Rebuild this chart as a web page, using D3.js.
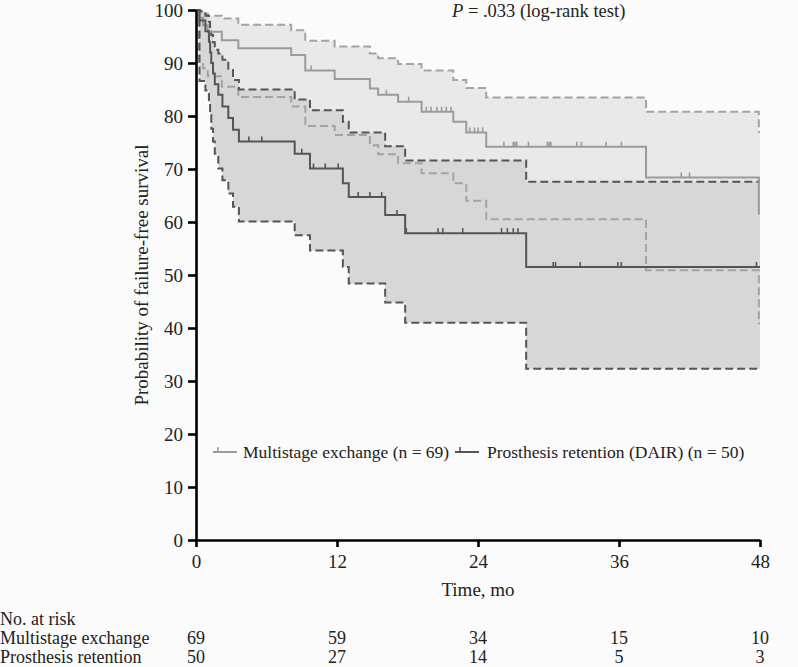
<!DOCTYPE html>
<html><head><meta charset="utf-8">
<script src="https://cdn.jsdelivr.net/npm/d3@7"></script>
<style>
html,body{margin:0;padding:0;background:#fbfbfb;}
svg{display:block;}
text{font-family:"Liberation Serif","Times New Roman",serif;fill:#222;}
</style></head>
<body><svg id="chart" width="798" height="667"></svg>
<script>
// ---------- DATA ----------
const xTicks = [0, 12, 24, 36, 48];
const yTicks = [0, 10, 20, 30, 40, 50, 60, 70, 80, 90, 100];

// Multistage exchange (Kaplan-Meier step times, estimate %, 95% CI)
const multiTimes = [0, 0.25, 0.6, 1.0, 2.2, 3.6, 8.1, 9.3, 11.8, 14.8, 15.5, 17.2, 19.2, 21.9, 23.0, 24.7, 38.3, 47.9, 48];
const multiEst   = [100, 98.55, 97.1, 95.9, 94.3, 92.8, 91.5, 88.6, 87.0, 85.2, 84.0, 82.7, 80.8, 78.9, 76.9, 74.2, 68.4, 61.6, 61.6];
const multiLower = [100, 90.2, 89.0, 87.5, 85.5, 83.6, 81.8, 78.1, 76.4, 74.5, 72.8, 71.1, 69.2, 67.3, 64.0, 60.5, 50.9, 40.9, 40.9];
const multiUpper = [100, 99.8, 99.3, 98.9, 98.4, 97.2, 96.2, 94.2, 93.1, 91.8, 90.9, 89.8, 88.6, 86.8, 85.3, 83.5, 80.8, 77.0, 77.0];
const multiCensor = [9.8, 16.2, 18.1, 19.6, 20.0, 20.5, 20.9, 21.3, 21.7, 23.3, 23.7, 24.0, 24.4,
  26.2, 27.0, 27.15, 27.3, 28.3, 29.9, 30.05, 30.2, 32.4, 32.8, 34.9, 36.2, 41.3, 42.0];

// Prosthesis retention (DAIR)
const dairTimes = [0, 0.3, 0.8, 1.1, 1.2, 1.3, 1.45, 1.6, 1.9, 2.25, 2.75, 3.15, 3.65, 8.4, 9.7, 12.5, 13.0, 16.1, 17.8, 28.1, 48];
const dairEst   = [100, 98, 96, 94, 92, 90, 88, 86, 84, 81.8, 79.6, 77.4, 75.2, 72.9, 70.1, 67.3, 64.7, 61.3, 57.9, 51.5, 51.5];
const dairLower = [100, 86.6, 84.8, 82.5, 80.2, 77.6, 75.2, 72.9, 70.1, 67.9, 65.4, 62.9, 60.1, 57.5, 54.6, 51.5, 48.4, 44.8, 41.0, 32.3, 32.3];
const dairUpper = [100, 99.7, 98.9, 97.8, 96.6, 95.3, 93.9, 92.5, 91.8, 90.6, 88.7, 86.8, 85.0, 83.1, 81.1, 78.9, 76.9, 74.3, 71.6, 67.6, 67.6];
const dairCensor = [4.5, 5.6, 9.0, 10.0, 11.0, 12.1, 13.8, 14.8, 15.8, 17.1, 17.9, 20.6, 21.0, 22.7, 26.0, 26.5, 27.0, 27.4,
  30.4, 30.6, 32.7, 35.9, 36.2, 47.7];

// Risk table
const riskGroups = ["Multistage exchange", "Prosthesis retention"];
const multiRisk = [69, 59, 34, 15, 10];
const dairRisk  = [50, 27, 14, 5, 3];

const legendLabels = ["Multistage exchange (n = 69)", "Prosthesis retention (DAIR) (n = 50)"];

// ---------- DRAW ----------
const svg = d3.select("#chart");
const x = d3.scaleLinear().domain([0, 48]).range([196, 760]);
const y = d3.scaleLinear().domain([0, 100]).range([540, 10]);

const LIGHT_FILL = "#e9e9e9", DARK_FILL = "#d7d7d7";
const LIGHT_LINE = "#9b9b9b", DARK_LINE = "#555555";

function rows(times, a, b, c) { return times.map((t, i) => ({t, e: a[i], lo: b[i], hi: c[i]})); }
const multi = rows(multiTimes, multiEst, multiLower, multiUpper);
const dair = rows(dairTimes, dairEst, dairLower, dairUpper);

const area = d3.area().curve(d3.curveStepAfter).x(d => x(d.t)).y0(d => y(d.lo)).y1(d => y(d.hi));
const lineOf = key => d3.line().curve(d3.curveStepAfter).x(d => x(d.t)).y(d => y(d[key]));

const g = svg.append("g");
g.append("path").attr("d", area(multi)).attr("fill", LIGHT_FILL);
g.append("path").attr("d", area(dair)).attr("fill", DARK_FILL);

function ci(data, color) {
  ["lo", "hi"].forEach(k => g.append("path").attr("d", lineOf(k)(data))
    .attr("fill", "none").attr("stroke", color).attr("stroke-width", 2)
    .attr("stroke-dasharray", "8,4"));
}
ci(multi, "#a3a3a3");
ci(dair, DARK_LINE);

function est(data, censor, times, vals, color) {
  g.append("path").attr("d", lineOf("e")(data)).attr("fill", "none")
    .attr("stroke", color).attr("stroke-width", 2);
  const bis = d3.bisector(d => d).right;
  g.selectAll(null).data(censor).join("line")
    .attr("x1", d => x(d)).attr("x2", d => x(d))
    .attr("y1", d => y(vals[bis(times, d) - 1]))
    .attr("y2", d => y(vals[bis(times, d) - 1]) - 5)
    .attr("stroke", color).attr("stroke-width", 1.6);
}
est(multi, multiCensor, multiTimes, multiEst, LIGHT_LINE);
est(dair, dairCensor, dairTimes, dairEst, DARK_LINE);

// Axes
const fs = "19px";
const xAxis = svg.append("g").attr("transform", "translate(0,540)")
  .call(d3.axisBottom(x).tickValues(xTicks).tickSize(7).tickPadding(8).tickSizeOuter(0));
const yAxis = svg.append("g").attr("transform", "translate(196,0)")
  .call(d3.axisLeft(y).tickValues(yTicks).tickSize(8).tickPadding(5).tickSizeOuter(0));
[xAxis, yAxis].forEach(a => {
  a.select(".domain").attr("stroke", "#000").attr("stroke-width", 2.6);
  a.selectAll(".tick line").attr("stroke", "#000").attr("stroke-width", 2.6);
  a.selectAll(".tick text").attr("font-size", fs).attr("fill", "#222")
    .style("font-family", '"Liberation Serif", serif');
});
yAxis.selectAll(".tick text").attr("dy", "0.33em");

svg.append("text").attr("transform", "translate(148,275) rotate(-90)")
  .attr("text-anchor", "middle").attr("font-size", fs)
  .text("Probability of failure-free survival");
svg.append("text").attr("x", 478).attr("y", 596).attr("text-anchor", "middle")
  .attr("font-size", fs).text("Time, mo");

// P value
const pt = svg.append("text").attr("x", 452).attr("y", 17).attr("font-size", "18.5px");
pt.append("tspan").attr("font-style", "italic").text("P");
pt.append("tspan").text(" = .033 (log-rank test)");

// Legend
const legFs = "17.5px";
const legend = [
  {label: legendLabels[0], color: LIGHT_LINE, x0: 213, tx: 243},
  {label: legendLabels[1], color: DARK_LINE, x0: 455, tx: 487}
];
legend.forEach(l => {
  svg.append("line").attr("x1", l.x0).attr("x2", l.x0 + 24).attr("y1", 452).attr("y2", 452)
    .attr("stroke", l.color).attr("stroke-width", 2);
  svg.append("line").attr("x1", l.x0 + 5).attr("x2", l.x0 + 5).attr("y1", 447).attr("y2", 452)
    .attr("stroke", l.color).attr("stroke-width", 1.6);
  svg.append("text").attr("x", l.tx).attr("y", 458).attr("font-size", legFs).text(l.label);
});

// Risk table
const tabFs = "18px";
svg.append("text").attr("x", 0).attr("y", 625).attr("font-size", tabFs).text("No. at risk");
[multiRisk, dairRisk].forEach((arr, i) => {
  const yy = 644 + i * 18.5;
  svg.append("text").attr("x", 0).attr("y", yy).attr("font-size", tabFs).text(riskGroups[i]);
  svg.selectAll(null).data(arr).join("text")
    .attr("x", (d, j) => x(xTicks[j])).attr("y", yy)
    .attr("text-anchor", "middle").attr("font-size", tabFs).text(d => d);
});
</script></body></html>
